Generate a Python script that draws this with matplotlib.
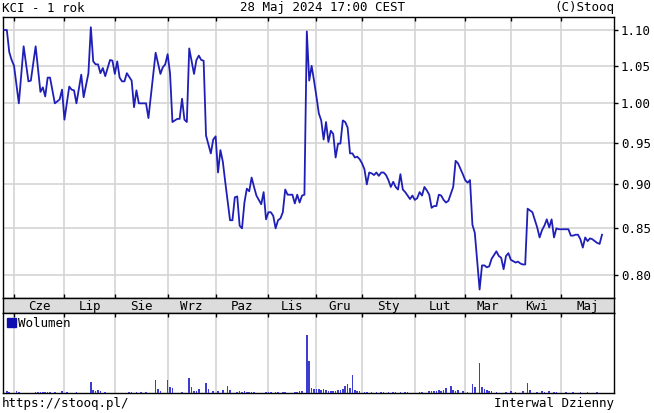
import matplotlib
matplotlib.use("Agg")
import matplotlib.pyplot as plt
from matplotlib.ticker import NullLocator, FixedLocator, NullFormatter
from matplotlib.patches import Patch

# ---- data (trading-day index, close) ----
days = [0, 1, 2, 3, 4, 6, 8, 10, 11, 13, 14, 15, 16, 17, 18, 19, 21, 23, 24, 25,
        27, 28, 29, 30, 32, 33, 35, 36, 37, 38, 39, 40, 41, 42, 43, 44, 45, 46, 47, 48,
        49, 50, 51, 53, 54, 55, 56, 58, 59, 60, 62, 63, 65, 66, 67, 68, 69, 70, 72, 73,
        74, 75, 76, 77, 79, 80, 81, 82, 83, 84, 86, 87, 88, 89, 90, 91, 92, 93, 94, 95,
        96, 97, 98, 99, 100, 101, 102, 103, 104, 105, 106, 107, 108, 109, 110, 111, 112, 113, 114, 115,
        116, 117, 118, 120, 121, 122, 123, 124, 125, 126, 127, 128, 129, 130, 131, 132, 133, 134, 135, 136,
        137, 138, 139, 140, 141, 142, 143, 144, 145, 146, 147, 148, 149, 150, 151, 152, 153, 154, 155, 156,
        157, 158, 159, 160, 161, 162, 163, 164, 165, 166, 167, 168, 169, 170, 171, 172, 173, 174, 175, 176,
        177, 178, 179, 180, 181, 182, 183, 184, 185, 187, 188, 189, 191, 192, 193, 194, 195, 196, 198, 199,
        200, 201, 202, 203, 205, 206, 207, 208, 209, 210, 211, 213, 214, 215, 216, 217, 218, 219, 220, 222,
        223, 224, 225, 226, 227, 228, 229, 230, 231, 232, 235, 236, 237, 238, 239, 240, 241, 242, 243, 244,
        245, 247, 248, 249]
close = [1.100, 1.100, 1.069, 1.058, 1.050, 1.000, 1.077, 1.029, 1.030, 1.077, 1.046, 1.015, 1.021, 1.009, 1.034, 1.034, 1.000, 1.005, 1.018, 0.979,
         1.022, 1.018, 1.017, 1.000, 1.038, 1.008, 1.040, 1.104, 1.056, 1.052, 1.052, 1.040, 1.047, 1.036, 1.047, 1.058, 1.057, 1.039, 1.056, 1.034,
         1.029, 1.029, 1.040, 1.030, 0.995, 1.017, 1.000, 1.000, 1.000, 0.981, 1.038, 1.068, 1.039, 1.048, 1.052, 1.066, 1.040, 0.976, 0.980, 0.980,
         1.006, 0.979, 0.976, 1.074, 1.039, 1.058, 1.064, 1.058, 1.057, 0.959, 0.937, 0.954, 0.958, 0.914, 0.941, 0.927, 0.903, 0.881, 0.859, 0.859,
         0.885, 0.886, 0.853, 0.850, 0.879, 0.895, 0.892, 0.908, 0.897, 0.887, 0.882, 0.877, 0.891, 0.860, 0.868, 0.868, 0.864, 0.850, 0.859, 0.861,
         0.868, 0.894, 0.888, 0.888, 0.878, 0.888, 0.879, 0.887, 0.888, 1.098, 1.030, 1.050, 1.030, 1.009, 0.987, 0.978, 0.954, 0.976, 0.951, 0.965,
         0.961, 0.932, 0.949, 0.949, 0.978, 0.976, 0.969, 0.937, 0.937, 0.932, 0.933, 0.930, 0.925, 0.918, 0.900, 0.914, 0.913, 0.911, 0.914, 0.910,
         0.914, 0.914, 0.911, 0.905, 0.897, 0.903, 0.897, 0.894, 0.912, 0.894, 0.891, 0.887, 0.883, 0.887, 0.882, 0.884, 0.891, 0.887, 0.897, 0.893,
         0.888, 0.873, 0.875, 0.875, 0.888, 0.887, 0.882, 0.879, 0.881, 0.897, 0.928, 0.925, 0.912, 0.905, 0.902, 0.905, 0.854, 0.845, 0.785, 0.810,
         0.810, 0.808, 0.809, 0.817, 0.825, 0.820, 0.818, 0.806, 0.820, 0.823, 0.816, 0.813, 0.814, 0.812, 0.811, 0.811, 0.872, 0.870, 0.868, 0.851,
         0.840, 0.848, 0.853, 0.860, 0.851, 0.860, 0.840, 0.850, 0.849, 0.849, 0.849, 0.842, 0.842, 0.843, 0.843, 0.838, 0.829, 0.840, 0.836, 0.839,
         0.838, 0.834, 0.833, 0.843]

# volume (thousands), same day index
vol_days = [1, 2, 5, 6, 13, 14, 15, 16, 17, 18, 19, 21, 24, 26, 30, 36, 37, 38, 39, 40,
            42, 52, 53, 55, 57, 59, 63, 64, 65, 68, 69, 70, 74, 77, 78, 79, 80, 81, 84, 85,
            87, 89, 91, 93, 94, 97, 98, 99, 100, 101, 102, 103, 104, 109, 110, 111, 113, 114, 116, 117,
            121, 122, 123, 124, 126, 127, 128, 129, 130, 131, 132, 133, 134, 135, 136, 137, 138, 139, 140, 141,
            142, 143, 144, 145, 146, 147, 148, 150, 151, 153, 155, 157, 158, 160, 162, 163, 165, 167, 168, 173,
            174, 177, 178, 179, 180, 181, 182, 183, 184, 186, 187, 188, 189, 191, 193, 195, 196, 198, 199, 200,
            201, 202, 203, 205, 209, 211, 213, 216, 218, 219, 222, 224, 225, 227, 229, 230, 234, 237, 240, 243,
            247]
volume = [20, 15, 20, 15, 10, 15, 10, 15, 10, 10, 15, 10, 20, 10, 10, 107, 30, 25, 30, 20,
          10, 10, 10, 10, 10, 15, 130, 40, 25, 130, 57, 50, 15, 147, 60, 25, 25, 45, 97, 40,
          20, 20, 30, 67, 30, 15, 20, 15, 20, 15, 15, 15, 10, 10, 15, 10, 15, 10, 10, 15,
          15, 10, 20, 25, 580, 320, 55, 45, 40, 45, 35, 40, 30, 25, 20, 25, 25, 30, 30, 40,
          73, 90, 50, 180, 30, 25, 20, 15, 10, 10, 15, 10, 10, 15, 10, 10, 15, 10, 10, 15,
          10, 20, 25, 20, 25, 30, 25, 30, 50, 67, 30, 20, 30, 25, 15, 90, 57, 297, 57, 40,
          30, 20, 20, 15, 15, 20, 15, 20, 97, 30, 15, 20, 15, 20, 15, 15, 10, 15, 10, 15,
          10]

month_start = [4, 25, 46, 68, 88, 110, 130, 149, 171, 192, 211, 232]
month_names = ["Cze", "Lip", "Sie", "Wrz", "Paz", "Lis", "Gru", "Sty", "Lut", "Mar", "Kwi", "Maj"]
price_ticks = [0.80, 0.85, 0.90, 0.95, 1.00, 1.05, 1.10]

W, H = 654, 413
mono = "DejaVu Sans Mono"
fs = 9
grid_c = "#d4d4d4"
x0, x1 = -0.6, 254


def box(l, t, r, b):
    return [l / W, 1 - b / H, (r - l) / W, (b - t) / H]


fig = plt.figure(figsize=(W / 100, H / 100), dpi=100)

# price panel
ax = fig.add_axes(box(3, 17, 614, 298))
ax.plot(days, close, color="#1f1fb8", lw=1.3, zorder=3)
ax.set_yscale("log")
ax.set_ylim(0.7764, 1.1188)
ax.set_xlim(x0, x1)
ax.yaxis.set_major_locator(FixedLocator(price_ticks))
ax.yaxis.set_minor_locator(NullLocator())
ax.yaxis.set_minor_formatter(NullFormatter())
ax.set_yticklabels(["%.2f" % v for v in price_ticks], family=mono, fontsize=fs)
ax.set_xticks(month_start)
ax.set_xticklabels([])
ax.grid(True, color=grid_c, lw=1.2)
ax.tick_params(axis="x", direction="in", top=True, bottom=True, length=3, width=1)
ax.tick_params(axis="y", direction="out", left=False, right=True, labelleft=False,
               labelright=True, length=3, width=1, pad=2)

# month strip
strip = fig.add_axes(box(3, 298, 614, 313))
strip.set_facecolor("#dcdcdc")
strip.set_xlim(x0, x1)
strip.set_ylim(0, 1)
strip.set_xticks([])
strip.set_yticks([])
edges = month_start + [x1]
for i, name in enumerate(month_names):
    strip.text((edges[i] + edges[i + 1]) / 2, 0.45, name, ha="center", va="center",
               family=mono, fontsize=fs)

# volume panel
axv = fig.add_axes(box(3, 313, 614, 393))
axv.bar(vol_days, volume, width=0.7, color="#3c3cd0", zorder=3)
axv.set_xlim(x0, x1)
axv.set_ylim(0, 800)
axv.set_yticks([])
axv.set_xticks(month_start)
axv.set_xticklabels([])
axv.grid(True, axis="x", color=grid_c, lw=1.2)
axv.tick_params(axis="x", direction="in", top=True, bottom=False, length=3, width=1)
axv.legend(handles=[Patch(color="#1010b0", label="Wolumen")], loc="upper left",
           frameon=False, prop={"family": mono, "size": fs}, handlelength=0.7,
           handleheight=0.7, handletextpad=0.2, borderaxespad=0.1, borderpad=0.2)

for a in (ax, strip, axv):
    for s in a.spines.values():
        s.set_linewidth(1)

# header / footer
fig.text(2 / W, 1 - 8 / H, "KCI - 1 rok", ha="left", va="center", family=mono, fontsize=fs)
fig.text(322 / W, 1 - 8 / H, "28 Maj 2024 17:00 CEST", ha="center", va="center", family=mono, fontsize=fs)
fig.text(614 / W, 1 - 8 / H, "(C)Stooq", ha="right", va="center", family=mono, fontsize=fs)
fig.text(2 / W, 1 - 404 / H, "https://stooq.pl/", ha="left", va="center", family=mono, fontsize=fs)
fig.text(614 / W, 1 - 404 / H, "Interwal Dzienny", ha="right", va="center", family=mono, fontsize=fs)

fig.savefig("out.png", dpi=100)
